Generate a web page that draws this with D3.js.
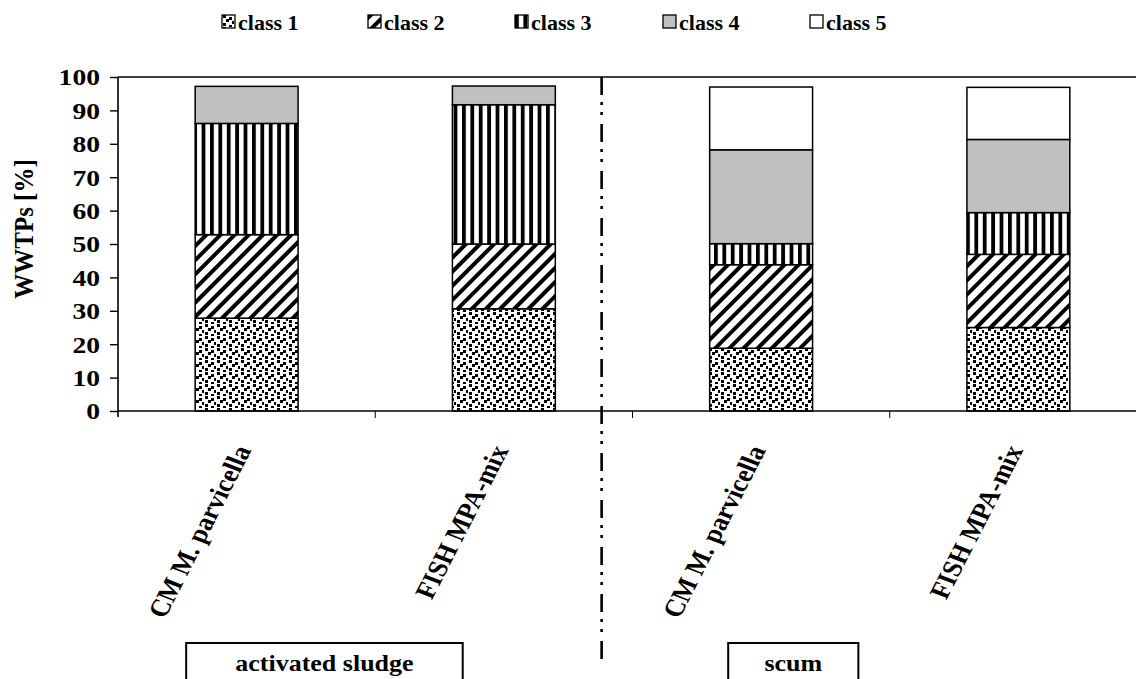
<!DOCTYPE html>
<html>
<head>
<meta charset="utf-8">
<script src="https://cdn.jsdelivr.net/npm/d3@7"></script>
<style>
  html, body { margin: 0; padding: 0; background: #fff; }
  svg { display: block; }
  text { font-family: "Liberation Serif", "Times New Roman", serif; font-weight: bold; fill: #000; }
</style>
</head>
<body>
<svg id="chart" width="1136" height="679"></svg>
<script>
// ---- data ----
const categories = ["CM M. parvicella", "FISH MPA-mix", "CM M. parvicella ", "FISH MPA-mix "];
const categoryLabels = ["CM M. parvicella", "FISH MPA-mix", "CM M. parvicella", "FISH MPA-mix"];
const seriesNames = ["class 1", "class 2", "class 3", "class 4", "class 5"];
const class1 = [27.8, 30.6, 18.8, 25.0];
const class2 = [25.0, 19.4, 25.0, 21.9];
const class3 = [33.3, 41.7, 6.3, 12.5];
const class4 = [11.1, 5.6, 28.1, 21.9];
const class5 = [0, 0, 18.8, 15.6];
const yTicks = [0, 10, 20, 30, 40, 50, 60, 70, 80, 90, 100];
const groupNames = ["activated sludge", "scum"];
const yTitle = "WWTPs [%]";

// ---- layout ----
const svg = d3.select("#chart");
const W = 1136, H = 679;
const mLeft = 118, mTop = 77, mBottom = 411;
const plotRight = mLeft + 4 * 257.25;

const x = d3.scaleBand().domain(categories).range([mLeft, plotRight]).paddingInner(0.6).paddingOuter(0.3);
const y = d3.scaleLinear().domain([0, 100]).range([mBottom, mTop]);
const step = x.step();

// ---- patterns ----
const defs = svg.append("defs");
// class 1: confetti of small squares
const p1 = defs.append("pattern").attr("id", "pat1").attr("patternUnits", "userSpaceOnUse")
  .attr("width", 12).attr("height", 12);
p1.append("rect").attr("width", 12).attr("height", 12).attr("fill", "#fff");
[[1,0],[7,2],[4,4],[10,6],[1,8],[7,10]].forEach(([a,b]) =>
  p1.append("rect").attr("x", a).attr("y", b).attr("width", 3).attr("height", 3).attr("fill", "#000"));
// class 2: wide upward diagonal
const p2 = defs.append("pattern").attr("id", "pat2").attr("patternUnits", "userSpaceOnUse")
  .attr("width", 10).attr("height", 10).attr("patternTransform", "rotate(45)");
p2.append("rect").attr("width", 10).attr("height", 10).attr("fill", "#fff");
p2.append("rect").attr("x", 0).attr("y", 0).attr("width", 4).attr("height", 10).attr("fill", "#000");
// class 3: dark vertical
const p3 = defs.append("pattern").attr("id", "pat3").attr("patternUnits", "userSpaceOnUse")
  .attr("width", 8.4).attr("height", 8);
p3.append("rect").attr("width", 8.4).attr("height", 8).attr("fill", "#fff");
p3.append("rect").attr("x", 0).attr("y", 0).attr("width", 3.8).attr("height", 8).attr("fill", "#000");

const fills = ["url(#pat1)", "url(#pat2)", "url(#pat3)", "#c0c0c0", "#ffffff"];

// ---- stacked data ----
const table = categories.map((c, i) => ({
  cat: c, "class 1": class1[i], "class 2": class2[i], "class 3": class3[i], "class 4": class4[i], "class 5": class5[i]
}));
const stacked = d3.stack().keys(seriesNames)(table);

// ---- frame lines ----
svg.append("line").attr("x1", mLeft).attr("x2", W).attr("y1", y(100)).attr("y2", y(100))
  .attr("stroke", "#000").attr("stroke-width", 1.6);

// ---- bars ----
stacked.forEach((s, si) => {
  svg.append("g").selectAll("rect").data(s.filter(d => d[1] - d[0] > 0)).join("rect")
    .attr("x", d => x(d.data.cat))
    .attr("width", x.bandwidth())
    .attr("y", d => y(d[1]))
    .attr("height", d => y(d[0]) - y(d[1]))
    .attr("fill", fills[si])
    .attr("stroke", "#000").attr("stroke-width", 1.5);
});

// ---- y axis ----
const yAxis = svg.append("g").attr("transform", `translate(${mLeft},0)`)
  .call(d3.axisLeft(y).tickValues(yTicks).tickSize(8).tickPadding(10));
yAxis.select(".domain").attr("stroke", "#000").attr("stroke-width", 1.6).attr("d", `M0,${y(100)}V${mBottom + 6}`);
yAxis.selectAll(".tick line").attr("stroke", "#000").attr("stroke-width", 1.4);
yAxis.selectAll(".tick text")
  .style("font-size", "23px").style("font-family", "Liberation Serif").style("font-weight", "bold")
  .attr("x", 0).attr("dy", "0.34em")
  .attr("transform", "translate(-18,0) scale(1.2,1)");

// ---- x axis ----
svg.append("line").attr("x1", mLeft).attr("x2", W).attr("y1", mBottom).attr("y2", mBottom)
  .attr("stroke", "#000").attr("stroke-width", 1.6);
const boundaries = d3.range(1, categories.length).map(i => x(categories[i]) - step * 0.3);
svg.append("g").selectAll("line").data(boundaries).join("line")
  .attr("x1", d => d).attr("x2", d => d).attr("y1", mBottom).attr("y2", mBottom + 7)
  .attr("stroke", "#000").attr("stroke-width", 1);

// category labels
svg.append("g").selectAll("text").data(categories).join("text")
  .attr("transform", d => `translate(${x(d) + x.bandwidth() / 2 + 5},${mBottom + 39}) scale(1.15,1) rotate(-66)`)
  .attr("text-anchor", "end")
  .style("font-size", "24.5px")
  .text((d, i) => categoryLabels[i]);

// y title
svg.append("text")
  .attr("transform", `translate(33,${(mTop + mBottom) / 2 - 15}) rotate(-90) scale(1,1.09)`)
  .attr("text-anchor", "middle")
  .style("font-size", "25px")
  .text(yTitle);

// ---- separator ----
const bw = x.bandwidth();
const gap = x(categories[2]) - (x(categories[1]) + bw);
const sepX = x(categories[1]) + bw + 0.3 * gap;
svg.append("line").attr("x1", sepX).attr("x2", sepX).attr("y1", y(100)).attr("y2", 662)
  .attr("stroke", "#000").attr("stroke-width", 2.6)
  .attr("stroke-dasharray", "18,7,3,7,3,9");

// ---- group boxes ----
const groupBoxes = [
  { name: groupNames[0], x0: mLeft + 0.265 * step, x1: mLeft + 1.34 * step },
  { name: groupNames[1], x0: mLeft + 2.372 * step, x1: mLeft + 2.878 * step }
];
const gb = svg.append("g");
gb.selectAll("rect").data(groupBoxes).join("rect")
  .attr("x", d => d.x0).attr("y", 643).attr("width", d => d.x1 - d.x0).attr("height", 60)
  .attr("fill", "#fff").attr("stroke", "#000").attr("stroke-width", 2);
gb.selectAll("text").data(groupBoxes).join("text")
  .attr("transform", d => `translate(${(d.x0 + d.x1) / 2},671) scale(1.13,1)`)
  .attr("text-anchor", "middle").style("font-size", "23px")
  .text(d => d.name);

// ---- legend ----
const legX = [222, 368, 515, 663, 810];
const leg = svg.append("g").selectAll("g").data(seriesNames).join("g")
  .attr("transform", (d, i) => `translate(${legX[i]},15)`);
leg.append("rect").attr("width", 13).attr("height", 13)
  .attr("fill", (d, i) => fills[i]).attr("stroke", "#000").attr("stroke-width", 1.3);
leg.append("text").attr("x", 16).attr("y", 14.5).style("font-size", "22px").text(d => d);
</script>
</body>
</html>
